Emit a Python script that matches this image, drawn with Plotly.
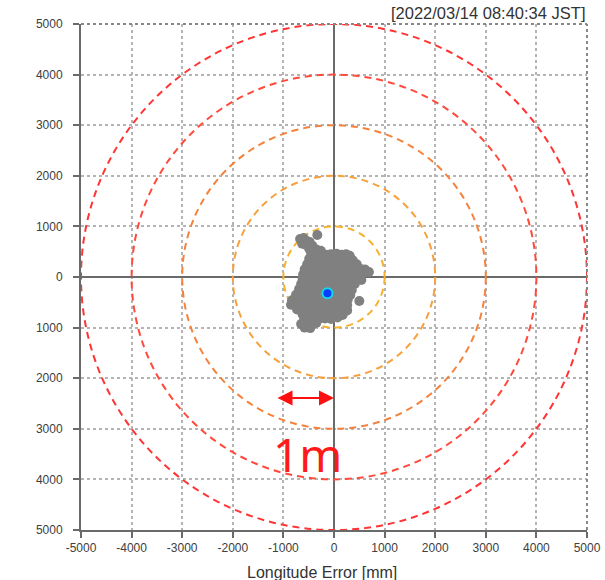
import plotly.graph_objects as go

# Position error samples [mm] (east/north offsets from the reference point)
err_x = [
    -330,
    -670, -600, -540,
    -630, -560, -480, -430,
    -490, -410, -340, -260,
    -450, -370, -270, -160, -60, 50, 150, 240, 310,
    -490, -400, -300, -200, -100, 0, 100, 200, 300, 370,
    -530, -440, -340, -240, -140, -40, 60, 160, 260, 360, 450,
    -580, -480, -380, -280, -180, -80, 20, 120, 220, 320, 420, 520, 610,
    -610, -500, -400, -300, -200, -100, 0, 100, 200, 300, 400, 500, 600, 690,
    -620, -520, -420, -320, -220, -120, -20, 80, 180, 280, 380, 480, 540,
    -650, -560, -460, -360, -260, -160, -60, 40, 140, 240, 340, 410,
    -690, -600, -500, -400, -300, -200, -100, 0, 100, 200, 300, 350,
    -750, -650, -540, -440, -340, -240, -140, -40, 60, 160, 260, 320,
    -830, -730, -620, -520, -420, -320, -220, -120, -20, 80, 180, 270, 500,
    -850, -740, -630, -530, -430, -330, -230, -130, -30, 70, 170, 260,
    -730, -620, -520, -420, -320, -220, -120, -20, 80, 180, 260,
    -620, -540, -440, -340, -240, -140, -40, 60, 170,
    -590, -500, -400, -300, -180, -60, 70,
    -650, -550, -450, -350,
    -580, -470,
]
err_y = [
    830,
    750, 770, 710,
    660, 640, 690, 620,
    560, 580, 540, 520,
    470, 480, 460, 440, 450, 460, 440, 450, 420,
    360, 350, 370, 350, 360, 350, 360, 340, 350, 330,
    250, 250, 270, 250, 260, 250, 260, 250, 260, 260, 250,
    150, 150, 170, 150, 160, 150, 160, 150, 160, 150, 170, 160, 150,
    50, 70, 60, 70, 60, 70, 60, 70, 60, 70, 80, 90, 90, 100,
    -40, -30, -40, -30, -40, -30, -40, -30, -40, -30, -40, -20, -60,
    -140, -130, -140, -130, -140, -130, -140, -130, -140, -130, -150, -140,
    -240, -230, -240, -230, -240, -230, -240, -230, -240, -230, -250, -260,
    -350, -330, -340, -330, -340, -330, -340, -330, -340, -330, -340, -360,
    -460, -430, -440, -430, -440, -430, -440, -430, -440, -430, -440, -450, -474,
    -550, -530, -540, -530, -540, -530, -540, -530, -540, -530, -540, -560,
    -640, -630, -640, -630, -640, -630, -640, -630, -640, -630, -660,
    -740, -730, -740, -730, -740, -730, -740, -730, -750,
    -840, -830, -840, -830, -820, -830, -800,
    -930, -920, -930, -910,
    -1000, -1010,
]

# Mean position [mm]
mean_x = [-130]
mean_y = [-320]

# Error rings [mm]
ring_radii = [1000, 2000, 3000, 4000, 5000]
ring_colors = ["#f6b22e", "#f6a03e", "#f5823c", "#ff4a3c", "#ff3434"]

# Axis ticks [mm]
tick_vals = [-5000, -4000, -3000, -2000, -1000, 0, 1000, 2000, 3000, 4000, 5000]
x_tick_text = ["-5000", "-4000", "-3000", "-2000", "-1000", "0",
               "1000", "2000", "3000", "4000", "5000"]
y_tick_text = ["5000", "4000", "3000", "2000", "1000", "0",
               "1000", "2000", "3000", "4000", "5000"]

# Scale bar (1 m)
scale_start = -1146
scale_end = 0
scale_y = -2390

timestamp = "[2022/03/14 08:40:34 JST]"
x_title = "Longitude Error [mm]"

AXIS = "#6a6a6a"
GRID = "#b4b4b4"
FONT = "Liberation Sans, Arial, sans-serif"

fig = go.Figure()

fig.add_trace(go.Scatter(
    x=err_x, y=err_y, mode="markers",
    marker=dict(size=10, color="#808080", line=dict(width=0)),
    hoverinfo="skip", showlegend=False,
))
fig.add_trace(go.Scatter(
    x=mean_x, y=mean_y, mode="markers",
    marker=dict(size=10, color="#0a3cff", line=dict(color="#12d8e8", width=2)),
    hoverinfo="skip", showlegend=False,
))

for r, c in zip(ring_radii, ring_colors):
    fig.add_shape(
        type="circle", xref="x", yref="y",
        x0=-r, y0=-r, x1=r, y1=r,
        line=dict(color=c, width=2, dash="7px,5px"),
        layer="between",
    )

# dotted frame on the top and right edges
fig.add_shape(type="line", xref="paper", yref="paper", x0=0, x1=1, y0=1, y1=1,
              line=dict(color="#888888", width=2, dash="dot"))
fig.add_shape(type="line", xref="paper", yref="paper", x0=1, x1=1, y0=0, y1=1,
              line=dict(color="#888888", width=2, dash="dot"))

# 1 m scale arrow
fig.add_annotation(
    x=scale_end, y=scale_y, ax=scale_start, ay=scale_y,
    xref="x", yref="y", axref="x", ayref="y",
    text="", showarrow=True, arrowhead=2, startarrowhead=2,
    arrowside="end+start", arrowsize=1.5, startarrowsize=1.5,
    arrowwidth=2, arrowcolor="#ff1010",
)
fig.add_annotation(
    x=-514, y=-3500, xref="x", yref="y",
    text="1m", showarrow=False,
    font=dict(family="Noto Sans, sans-serif", size=46, color="#ff1a1a"),
)

fig.add_annotation(
    x=1.0, y=1.0, xref="paper", yref="paper", xanchor="right", yanchor="bottom",
    yshift=0, text=timestamp, showarrow=False,
    font=dict(family=FONT, size=16.5, color="#333333"),
)
fig.add_annotation(
    x=0.476, y=0, xref="paper", yref="paper", xanchor="center", yanchor="top",
    yshift=-32, text=x_title, showarrow=False,
    font=dict(family=FONT, size=16, color="#333333"),
)

axis_common = dict(
    range=[-5000, 5000], tickvals=tick_vals, automargin=False,
    showgrid=True, gridcolor=GRID, gridwidth=1.5, griddash="dot",
    zeroline=True, zerolinecolor=AXIS, zerolinewidth=2,
    showline=True, linecolor=AXIS, linewidth=2,
    ticks="outside", ticklen=6, tickwidth=2, tickcolor=AXIS,
    tickfont=dict(family=FONT, size=12, color="#404040"),
    fixedrange=True,
)
fig.update_xaxes(ticktext=x_tick_text, **axis_common)
fig.update_yaxes(ticktext=y_tick_text, ticklabelstandoff=8, **axis_common)

fig.update_layout(
    width=605, height=580,
    margin=dict(l=81, r=18, t=24, b=50, autoexpand=False),
    paper_bgcolor="white", plot_bgcolor="white",
    showlegend=False,
)

fig.write_html("out.html")
